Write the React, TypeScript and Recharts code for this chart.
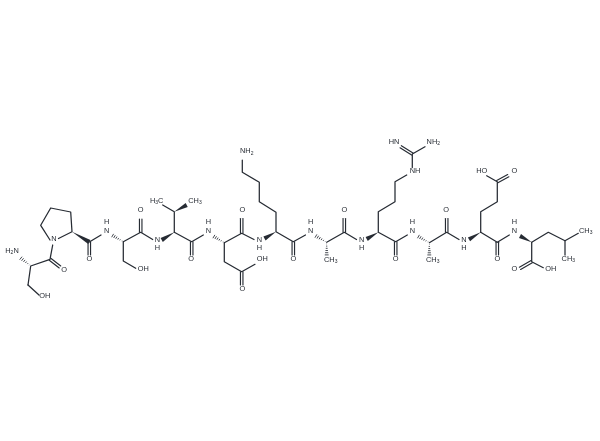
import React from 'react';
import { ScatterChart, Scatter, XAxis, YAxis } from 'recharts';

type P = [number, number];

// Plain single-bond chains, in picture units
const singleChains: P[][] = [
  [[28, 285], [30.7, 266], [50, 259.3], [52.7, 245]],
  [[28, 285], [39, 295]],
  [[50, 240], [40.7, 225.3], [50.7, 208], [70.7, 212], [72, 231.7], [58.5, 238.5]],
  [[89.3, 242], [101, 235]],
  [[123.3, 241.7], [123.3, 261], [135.7, 268.3]],
  [[123.3, 241.7], [140.7, 232.3], [152.7, 239.5]],
  [[174.3, 232.3], [174.3, 211.7], [162.7, 205]],
  [[174.3, 232.3], [191.7, 241.7], [203.3, 235]],
  [[224.3, 242.7], [224.3, 261.7], [241.7, 271.7], [255, 264.3]],
  [[224.3, 242.7], [241.7, 233.3], [254, 239.5]],
  [[242.3, 160], [242.3, 172.3], [259.3, 182.3], [259.3, 201.7], [276, 212.3], [276, 231.7], [293.3, 241.7], [305.5, 235]],
  [[326.7, 242.3], [344.3, 232.3], [356.5, 239.5]],
  [[406.7, 175], [395, 181.7], [395, 201.7], [378.3, 211.7], [378.3, 232.3], [395.7, 241.7], [407.3, 235]],
  [[412.3, 167.5], [412.3, 154], [425, 146.7]],
  [[429.3, 242.7], [446.7, 232.3], [459, 239.5]],
  [[480.7, 232.3], [480.7, 211.7], [497.3, 201.7], [497.3, 181.7], [486.7, 175.7]],
  [[480.7, 232.3], [497.3, 242.3], [509.3, 235]],
  [[531.7, 242.3], [548.3, 232.3], [565, 240.7], [578.3, 233.3]],
  [[565, 240.7], [565, 255]],
  [[531.7, 242.3], [531.7, 261.7], [543.3, 267.7]],
];

// Double bonds
const doubleBonds: P[][] = [
  [[50, 259.3], [60, 267]],
  [[89.3, 242], [89.3, 255]],
  [[140.7, 232.3], [140.7, 219]],
  [[191.7, 241.7], [191.7, 255]],
  [[241.7, 233.3], [241.7, 218.5]],
  [[241.7, 271.7], [241.7, 285]],
  [[293.3, 241.7], [293.3, 255]],
  [[344.3, 232.3], [344.3, 218.5]],
  [[395.7, 241.7], [395.7, 255]],
  [[446.7, 232.3], [446.7, 218.5]],
  [[497.3, 242.3], [497.3, 255]],
  [[497.3, 181.7], [508.3, 175.7]],
  [[531.7, 261.7], [520, 268.3]],
  [[412.3, 154], [400.7, 146.7]],
];

// Solid wedges: narrow end first
const wedgeBonds: P[][] = [
  [[72, 231.7], [89.3, 242]],
  [[174.3, 232.3], [161.7, 240]],
  [[174.3, 211.7], [186.7, 205]],
  [[276, 231.7], [264.5, 238.5]],
  [[378.3, 232.3], [366.7, 239]],
  [[480.7, 232.3], [469, 239.3]],
  [[531.7, 242.3], [520, 236]],
];

// Hashed wedges: narrow end first
const hashBonds: P[][] = [
  [[30.7, 266], [20, 257.5]],
  [[123.3, 241.7], [111.7, 235]],
  [[224.3, 242.7], [213, 236]],
  [[326.7, 242.3], [315, 235.5]],
  [[429.3, 242.7], [417.5, 236]],
  [[326.7, 242.3], [326.7, 256]],
  [[429.3, 242.7], [429.3, 256]],
];

const atomLabels = ['H2N', 'OH', 'O', 'N', 'O', 'N', 'H', 'OH', 'O', 'N', 'H', 'H3C', 'CH3', 'O', 'N', 'H', 'OH', 'O', 'O', 'N', 'H', 'NH2', 'O', 'N', 'H', 'CH3', 'O', 'N', 'H', 'NH', 'HN', 'NH2', 'O', 'N', 'H', 'CH3', 'O', 'N', 'H', 'HO', 'O', 'O', 'N', 'H', 'O', 'OH', 'CH3', 'CH3'];
const atomX = [12, 44.7, 64, 54, 89.3, 106.7, 106.7, 143.3, 140.7, 157.3, 157.3, 156.7, 195, 191, 208.3, 208.3, 262.3, 242.3, 242.3, 259.3, 259.3, 246.7, 293.3, 310.7, 310.7, 330.7, 344.3, 361.7, 361.7, 415, 394, 433.3, 395.7, 412.3, 412.3, 432.7, 446, 464, 464, 481.7, 514.3, 497.3, 514.3, 514.3, 514.3, 550.7, 585.7, 568.3];
const atomY = [252.7, 297.7, 272, 240.7, 261.3, 233, 224.3, 271.3, 212.3, 241.7, 250.4, 202.7, 202.7, 260.7, 233, 224.3, 261, 212.3, 291, 241.7, 250.4, 153.3, 261, 233, 224.3, 262, 212.3, 241.7, 250.4, 172.7, 144, 144, 261, 233, 224.3, 262, 212.3, 241.7, 250.4, 172.7, 172.7, 261, 233, 224.3, 271.3, 271.3, 232.7, 260.7];

const INK = '#262b33';
const labelData = atomLabels.map((label, i) => ({ x: atomX[i], y: atomY[i], label }));
const toData = (pts: P[]) => pts.map(([x, y]) => ({ x, y }));

const noDot = () => <g />;

const chainLine = (p: any) => (
  <polyline points={p.points.map((q: any) => `${q.x},${q.y}`).join(' ')} fill="none" stroke={INK} strokeWidth={1.25} strokeLinejoin="round" strokeLinecap="round" />
);

const doubleLine = (p: any) => {
  const [a, b] = p.points;
  const dx = b.x - a.x;
  const dy = b.y - a.y;
  const len = Math.hypot(dx, dy);
  const nx = (-dy / len) * 1.25;
  const ny = (dx / len) * 1.25;
  return (
    <g stroke={INK} strokeWidth={1.15} strokeLinecap="round">
      <line x1={a.x + nx} y1={a.y + ny} x2={b.x + nx} y2={b.y + ny} />
      <line x1={a.x - nx} y1={a.y - ny} x2={b.x - nx} y2={b.y - ny} />
    </g>
  );
};

const wedgeLine = (p: any) => {
  const [a, b] = p.points;
  const dx = b.x - a.x;
  const dy = b.y - a.y;
  const len = Math.hypot(dx, dy);
  const nx = (-dy / len) * 2.2;
  const ny = (dx / len) * 2.2;
  return <polygon points={`${a.x},${a.y} ${b.x + nx},${b.y + ny} ${b.x - nx},${b.y - ny}`} fill={INK} />;
};

const hashLine = (p: any) => {
  const [a, b] = p.points;
  const dx = b.x - a.x;
  const dy = b.y - a.y;
  const len = Math.hypot(dx, dy);
  const ticks = [0.12, 0.28, 0.44, 0.6, 0.76, 0.92];
  return (
    <g stroke={INK} strokeWidth={0.85}>
      {ticks.map((t) => {
        const hw = 2.1 * t;
        const nx = (-dy / len) * hw;
        const ny = (dx / len) * hw;
        const cx = a.x + dx * t;
        const cy = a.y + dy * t;
        return <line key={t} x1={cx + nx} y1={cy + ny} x2={cx - nx} y2={cy - ny} />;
      })}
    </g>
  );
};

const AtomLabel = (p: any) => {
  const parts = String(p.payload?.label ?? p.label).split(/(\d)/).filter(Boolean);
  return (
    <text x={p.cx} y={p.cy} dy="0.36em" textAnchor="middle" fontFamily="'Liberation Sans', Arial, sans-serif" fontSize={7.4} fill={INK}>
      {parts.map((s: string, i: number) =>
        /\d/.test(s) ? (
          <tspan key={i} fontSize={5} dy={1.3}>{s}</tspan>
        ) : (
          <tspan key={i} dy={i > 0 && /\d/.test(parts[i - 1]) ? -1.3 : 0}>{s}</tspan>
        ),
      )}
    </text>
  );
};

export default function App() {
  return (
    <div style={{ position: 'absolute', left: 0, top: 0, width: 600, height: 441, background: '#fff', filter: 'blur(0.4px)' }}>
      <ScatterChart width={600} height={441} margin={{ top: 0, right: 0, bottom: 0, left: 0 }}>
        <XAxis type="number" dataKey="x" domain={[0, 600]} hide allowDataOverflow />
        <YAxis type="number" dataKey="y" domain={[0, 441]} reversed hide allowDataOverflow />
        {singleChains.map((c, i) => (
          <Scatter key={`s${i}`} data={toData(c)} line={chainLine} shape={noDot} isAnimationActive={false} />
        ))}
        {doubleBonds.map((c, i) => (
          <Scatter key={`d${i}`} data={toData(c)} line={doubleLine} shape={noDot} isAnimationActive={false} />
        ))}
        {wedgeBonds.map((c, i) => (
          <Scatter key={`w${i}`} data={toData(c)} line={wedgeLine} shape={noDot} isAnimationActive={false} />
        ))}
        {hashBonds.map((c, i) => (
          <Scatter key={`h${i}`} data={toData(c)} line={hashLine} shape={noDot} isAnimationActive={false} />
        ))}
        <Scatter data={labelData} shape={AtomLabel} isAnimationActive={false} />
      </ScatterChart>
    </div>
  );
}
